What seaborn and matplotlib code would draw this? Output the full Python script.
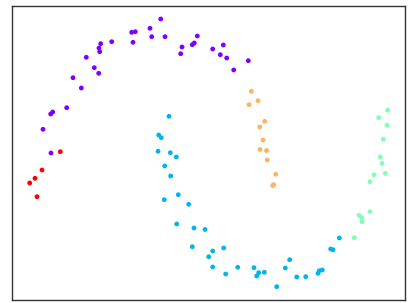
import numpy as np
import pandas as pd
import matplotlib
matplotlib.use("Agg")
import matplotlib.pyplot as plt
import seaborn as sns

# cluster 0 (purple)
x0 = [148.7, 138, 119.7, 123.3, 139.7, 153, 121, 99.7, 88.7, 87, 87.7, 74.3, 82.3, 86.7, 61, 69.3,
      54.7, 40.7, 38.7, 31, 185.3, 182.3, 180.3, 170, 168.7, 39, 200.7, 211.3, 208.3, 214.7, 236.3, 221.7]
y0 = [281, 271.7, 267.7, 268.3, 263.3, 263.3, 257.7, 258.3, 256.3, 252, 248.3, 242.7, 232.3, 226.7, 222.3, 212,
      192.3, 188, 186, 170.7, 264, 257, 255.3, 253, 246.3, 147, 251, 255, 245.3, 242, 239.3, 230]
# cluster 1 (blue)
x1 = [157, 146.7, 149.3, 146, 158.3, 164.3, 152.7, 158.7, 166.3, 152.3, 176.7, 164.7, 182, 193, 180.3, 196.7,
      200.7, 211.7, 200.7, 213.7, 225.7, 242, 246.7, 244.7, 252.3, 264.7, 273.3, 277.7, 284.7, 293.7, 306,
      307.3, 310.3, 318.7, 321, 327.3]
y1 = [183.7, 165, 162.3, 148.7, 147.3, 143, 134, 124, 105.3, 100.3, 95.7, 76, 72, 70.5, 53.3, 43.3,
      49, 52, 33, 26, 32.7, 32.3, 27.3, 24, 27.7, 13.3, 32, 40.3, 23, 23.3, 26.7,
      29.3, 30, 51, 50.3, 62]
# cluster 2 (green)
x2 = [375.7, 366.7, 375, 371.3, 368.3, 370, 362, 373.3, 358, 358, 347, 350, 350, 342.3]
y2 = [189.7, 182.3, 174.7, 160.7, 143, 136.7, 125.3, 126.7, 118.3, 88.3, 84.7, 81.7, 78.3, 62.3]
# cluster 3 (orange)
x3 = [239.3, 246, 237, 252.7, 247.7, 251, 248, 254.5, 255.3, 263.7, 261.7, 260.7]
y3 = [208.7, 199.3, 195.3, 178.7, 173, 160, 150.5, 149.5, 140, 125.7, 115.3, 114.3]
# cluster 4 (red)
x4 = [48.3, 30, 23, 17.7, 25]
y4 = [148.3, 130, 121.7, 117, 103.3]

xs = [x0, x1, x2, x3, x4]
ys = [y0, y1, y2, y3, y4]
rows = []
for lab, (xx, yy) in enumerate(zip(xs, ys)):
    for a, b in zip(xx, yy):
        rows.append((a, b, lab))
df = pd.DataFrame(rows, columns=["x", "y", "label"])

sns.set_style("white")
fig = plt.figure(figsize=(4.13, 3.03), dpi=100)
ax = fig.add_axes([12 / 413, 3 / 303, 393 / 413, 294 / 303])
sns.scatterplot(data=df, x="x", y="y", hue="label", palette="rainbow", hue_norm=(0, 4),
                legend=False, s=12, edgecolor="none", ax=ax)
ax.set_xlim(0, 393)
ax.set_ylim(0, 294)
ax.set_xticks([])
ax.set_yticks([])
ax.set_xlabel("")
ax.set_ylabel("")
for sp in ax.spines.values():
    sp.set_color("#333333")
    sp.set_linewidth(1.0)
fig.savefig("out.png", dpi=100)
